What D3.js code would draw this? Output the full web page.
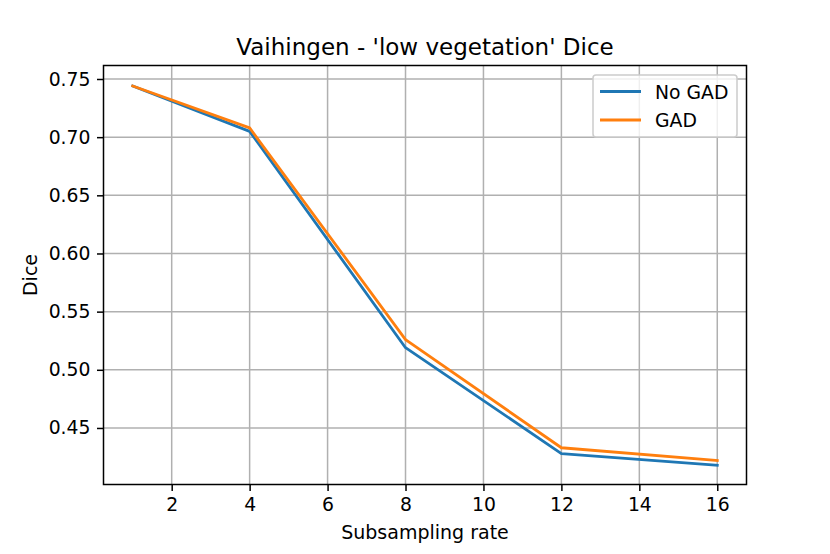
<!DOCTYPE html>
<html><head><meta charset="utf-8">
<script src="https://cdn.jsdelivr.net/npm/d3@7"></script>
<style>body{margin:0;background:#fff}svg{display:block}text{font-family:"DejaVu Sans",sans-serif;fill:#000}</style>
</head><body><svg id="c" width="830" height="554"></svg>
<script>
const rates = [1, 4, 8, 12, 16];
const noGAD = [0.744, 0.705, 0.519, 0.428, 0.418];
const gad = [0.744, 0.708, 0.526, 0.433, 0.422];
const seriesNames = ["No GAD", "GAD"];
const seriesColors = ["#1f77b4", "#ff7f0e"];
const xTicks = [2, 4, 6, 8, 10, 12, 14, 16];
const yTicks = [0.45, 0.50, 0.55, 0.60, 0.65, 0.70, 0.75];

const svg = d3.select("#c");
const L = 103.5, R = 746.5, T = 65.5, B = 484.5;
const x = d3.scaleLinear().domain([0.25, 16.75]).range([L, R]);
const y = d3.scaleLinear().domain([0.4014, 0.7616]).range([B, T]);

svg.append("rect").attr("width",830).attr("height",554).attr("fill","#fff");

// grid
const g = svg.append("g");
g.selectAll(".gx").data(xTicks).enter().append("line")
  .attr("x1",d=>x(d)).attr("x2",d=>x(d)).attr("y1",T).attr("y2",B)
  .attr("stroke","#b0b0b0").attr("stroke-width",1.5);
g.selectAll(".gy").data(yTicks).enter().append("line")
  .attr("y1",d=>y(d)).attr("y2",d=>y(d)).attr("x1",L).attr("x2",R)
  .attr("stroke","#b0b0b0").attr("stroke-width",1.5);

// lines
const series = [noGAD, gad];
const line = d3.line().x((d,i)=>x(rates[i])).y(d=>y(d));
series.forEach((s,k)=>{
  svg.append("path").datum(s).attr("d",line).attr("fill","none")
    .attr("stroke",seriesColors[k]).attr("stroke-width",2.8)
    .attr("stroke-linejoin","round").attr("stroke-linecap","square");
});

// axes
const xAxis = d3.axisBottom(x).tickValues(xTicks).tickSize(6.5).tickPadding(6.5).tickFormat(d3.format("d"));
const yAxis = d3.axisLeft(y).tickValues(yTicks).tickSize(6.5).tickPadding(6.5).tickFormat(d3.format(".2f"));
const ax = svg.append("g").attr("transform",`translate(0,${B})`).call(xAxis);
const ay = svg.append("g").attr("transform",`translate(${L},0)`).call(yAxis);
[ax, ay].forEach(a=>{
  a.select(".domain").remove();
  a.selectAll(".tick line").attr("stroke","#000").attr("stroke-width",1.5);
  a.selectAll(".tick text").style("font-size","18.8px").style("font-family","DejaVu Sans").attr("fill","#000");
});

// frame
svg.append("rect").attr("x",L).attr("y",T).attr("width",R-L).attr("height",B-T)
  .attr("fill","none").attr("stroke","#000").attr("stroke-width",1.5);

// title & labels
svg.append("text").attr("x",(L+R)/2).attr("y",55).attr("text-anchor","middle")
  .style("font-size","23px").text("Vaihingen - 'low vegetation' Dice");
svg.append("text").attr("x",(L+R)/2).attr("y",539).attr("text-anchor","middle")
  .style("font-size","19px").text("Subsampling rate");
svg.append("text").attr("transform",`translate(37,${(T+B)/2}) rotate(-90)`).attr("text-anchor","middle")
  .style("font-size","19px").text("Dice");

// legend
const lg = svg.append("g");
lg.append("rect").attr("x",593).attr("y",75).attr("width",144).attr("height",62).attr("rx",3)
  .attr("fill","#fff").attr("fill-opacity",0.8).attr("stroke","#cccccc").attr("stroke-width",1.5);
seriesNames.forEach((n,k)=>{
  const yy = 91.5 + k*28.5;
  lg.append("line").attr("x1",600).attr("x2",641).attr("y1",yy).attr("y2",yy)
    .attr("stroke",seriesColors[k]).attr("stroke-width",2.8);
  lg.append("text").attr("x",655).attr("y",yy+7).style("font-size","18.8px").text(n);
});
</script></body></html>
